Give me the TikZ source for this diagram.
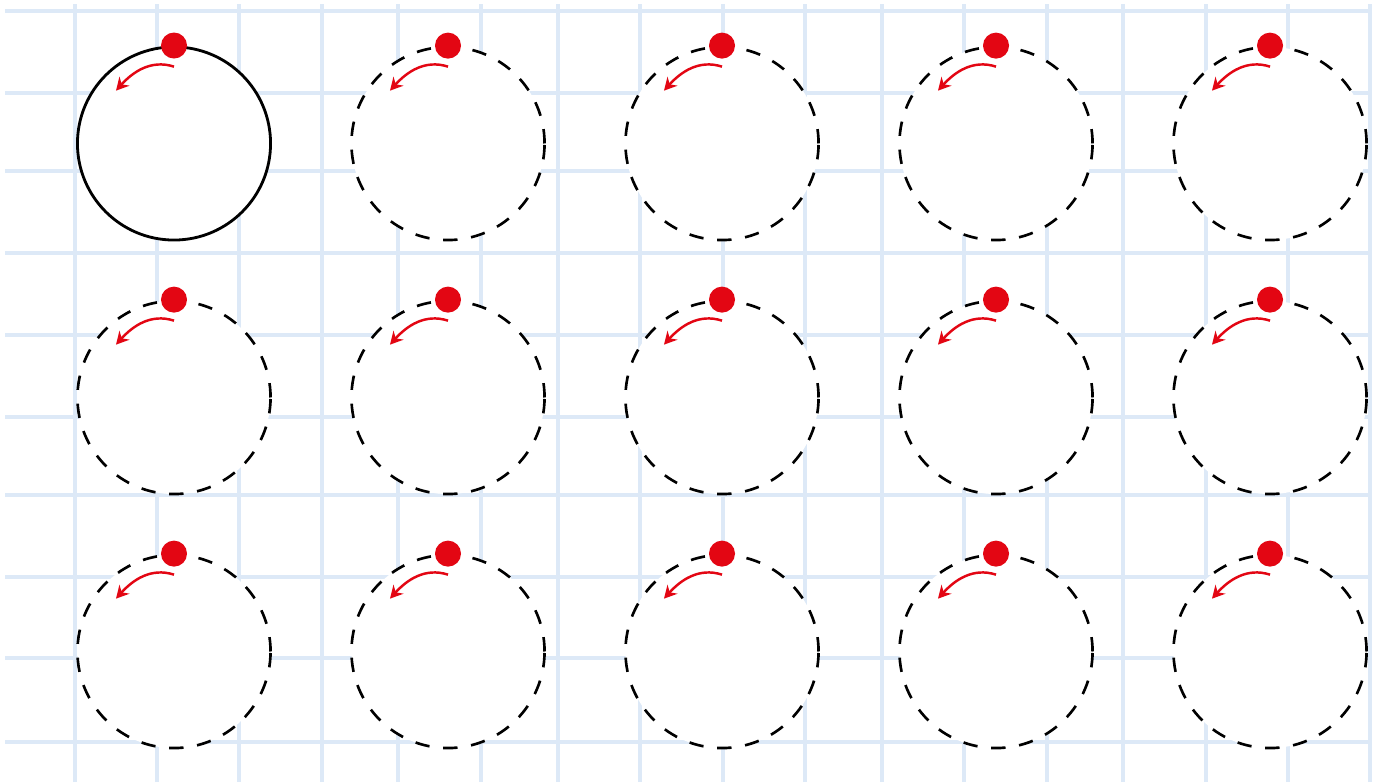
\documentclass[tikz,border=0pt]{standalone}
\usetikzlibrary{arrows.meta}
\definecolor{gridblue}{RGB}{221,233,247}
\definecolor{penred}{RGB}{227,6,19}
\begin{document}
\begin{tikzpicture}[x=0.01cm, y=0.01cm,
    gridline/.style={draw=gridblue, line width=1.4pt},
    shape_circle/.style={draw, circle, fill=white, inner sep=0pt, minimum size=1.93cm, line width=0.8pt},
    trace_circle/.style={shape_circle, line width=0.75pt, dash pattern=on 4.1pt off 3.9pt},
    start_dot/.style={fill=penred},
    turn_arrow/.style={draw=penred, line width=0.7pt, -{Stealth[length=3.6pt, width=3.8pt]}}]
    \useasboundingbox (0,0) rectangle (1383,782);

    % Squared paper
    \foreach \gx in {75,157,239,322,398,481,558,640,723,805,882,964,1047,1123,1206,1288,1370}
        \draw[gridline] (\gx,0) -- (\gx,778);
    \foreach \gy in {40,124,205,287,365,447,529,611,689,771}
        \draw[gridline] (5,\gy) -- (1372,\gy);

    % First rank: one solid circle to copy, then four to trace
    \node[shape_circle] (c_11) at (174,638.5) {};
    \node[trace_circle] (c_12) at (448,638.5) {};
    \node[trace_circle] (c_13) at (722,638.5) {};
    \node[trace_circle] (c_14) at (996,638.5) {};
    \node[trace_circle] (c_15) at (1270,638.5) {};

    % Second rank
    \node[trace_circle] (c_21) at (174,384.5) {};
    \node[trace_circle] (c_22) at (448,384.5) {};
    \node[trace_circle] (c_23) at (722,384.5) {};
    \node[trace_circle] (c_24) at (996,384.5) {};
    \node[trace_circle] (c_25) at (1270,384.5) {};

    % Third rank
    \node[trace_circle] (c_31) at (174,130.5) {};
    \node[trace_circle] (c_32) at (448,130.5) {};
    \node[trace_circle] (c_33) at (722,130.5) {};
    \node[trace_circle] (c_34) at (996,130.5) {};
    \node[trace_circle] (c_35) at (1270,130.5) {};

    % Start point and direction on every circle
    \foreach \c in {c_11,c_12,c_13,c_14,c_15,c_21,c_22,c_23,c_24,c_25,c_31,c_32,c_33,c_34,c_35} {
        \fill[start_dot] (\c.north) circle[radius=0.13cm];
        \draw[turn_arrow] ([shift={(0cm,0.768cm)}]\c.center) to[out=162, in=48] ([shift={(-0.58cm,0.528cm)}]\c.center);
    }

\end{tikzpicture}
\end{document}
